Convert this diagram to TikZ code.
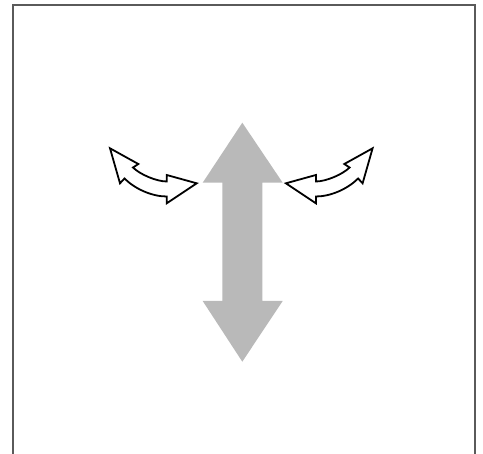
\documentclass[tikz,border=0pt]{standalone}
\definecolor{framecol}{RGB}{90,90,90}
\definecolor{bigarrow}{RGB}{185,185,185}
\tikzset{
  frameline/.style={draw=framecol, line width=1.8},
  bigarrowstyle/.style={fill=bigarrow, draw=none},
  curvearrowstyle/.style={draw=black, fill=white, line width=1.8, line join=miter},
}
\newcommand\mycurvearrow{%
  (110,148.3) -- (138.3,164) -- (133,167.5)
  .. controls (140,174.5) and (156.7,181.5) .. (166.7,181.5)
  -- (166.7,175) -- (196.7,183.3) -- (166.7,203.3) -- (166.7,196.5)
  .. controls (152,196.5) and (135,189) .. (124.5,178.5)
  -- (120,183.3) -- cycle}
\begin{document}
\begin{tikzpicture}[x=1pt,y=-1pt]
\useasboundingbox (0,0) rectangle (483,454);
\draw[frameline] (12.7,454) -- (12.7,5) -- (475,5) -- (475,454);
\path[bigarrowstyle] (242.3,122.7) -- (282.7,182.7) -- (262.3,182.7) -- (262.3,301)
  -- (282.7,301) -- (242.3,361.7) -- (202.7,301) -- (222.3,301) -- (222.3,182.7)
  -- (202.7,182.7) -- cycle;
\path[curvearrowstyle] \mycurvearrow;
\begin{scope}[shift={(482.6,0)}, xscale=-1]
\path[curvearrowstyle] \mycurvearrow;
\end{scope}
\end{tikzpicture}
\end{document}
